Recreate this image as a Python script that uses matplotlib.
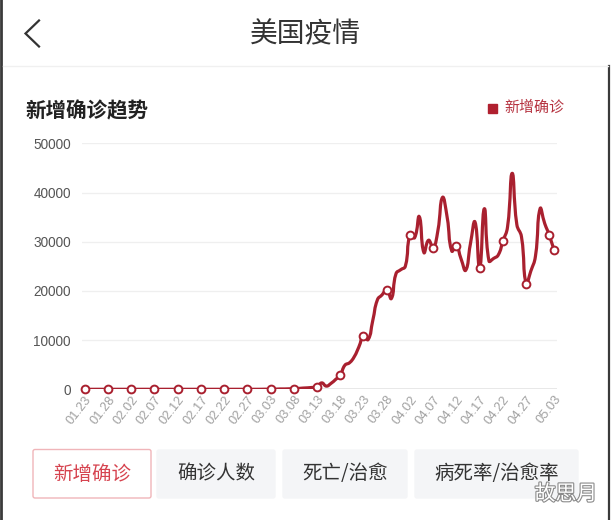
import numpy as np
import pandas as pd
import matplotlib
matplotlib.use('Agg')
import matplotlib.pyplot as plt
from matplotlib.path import Path
from matplotlib.patches import PathPatch, FancyBboxPatch, Rectangle
from matplotlib.lines import Line2D
import matplotlib.patheffects as pe

plt.rcParams['font.family'] = ['Noto Sans CJK SC', 'DejaVu Sans']

# daily new confirmed cases, 01.23 .. 05.03
new_cases = [
    0, 1, 0, 2, 0, 0, 0, 1, 1, 0,
    3, 0, 0, 3, 0, 0, 0, 0, 1, 0,
    1, 0, 0, 0, 0, 0, 0, 0, 0, 0,
    0, 0, 0, 0, 0, 1, 2, 0, 8, 22,
    20, 30, 70, 70, 100, 110, 170, 250, 300, 380,
    450, 1300, 650, 1200, 2000, 2900, 4900, 5400, 6600, 8600,
    10800, 10100, 14000, 18200, 19200, 20280, 18450, 23500, 24300, 25000,
    31300, 30800, 35100, 27800, 30300, 28800, 32200, 39000, 35000, 28100,
    29070, 26500, 24200, 29500, 34000, 24600, 36700, 26100, 26600, 27300,
    30080, 33000, 43900, 33500, 31000, 21500, 24000, 27000, 36700, 33700,
    31300, 28250,
]
dates = pd.date_range('2020-01-23', periods=len(new_cases), freq='D')
date_labels = [d.strftime('%m.%d') for d in dates]
y_ticks = [0, 10000, 20000, 30000, 40000, 50000]
buttons = ['新增确诊', '确诊人数', '死亡/治愈', '病死率/治愈率']

RED = '#a9202f'
W, H = 611, 520

fig = plt.figure(figsize=(W / 100, H / 100), dpi=100)
fig.patch.set_facecolor('white')

# overlay axes in pixel coordinates for the app chrome
bg = fig.add_axes([0, 0, 1, 1], zorder=0)
bg.set_xlim(0, W)
bg.set_ylim(H, 0)
bg.axis('off')

bg.add_line(Line2D([1.2, 1.2], [0, H], color='#3a3a3a', lw=2.0))
bg.add_line(Line2D([608.8, 608.8], [66, H], color='#3a3a3a', lw=1.6))
bg.add_line(Line2D([3, 608], [66, 66], color='#f0f0f0', lw=1.0))

# back chevron + page title
bg.add_line(Line2D([39, 25.5, 39], [20.5, 33.5, 46.5], color='#333333', lw=1.6,
                   solid_joinstyle='miter'))
bg.text(305, 34, '美国疫情', fontsize=20, color='#333333', ha='center', va='center')

# chart title + legend
bg.text(26, 111, '新增确诊趋势', fontsize=14.8, fontweight='bold', color='#222222',
        ha='left', va='center')
bg.add_patch(Rectangle((487.5, 103.5), 9, 9, color='#b0202f'))
bg.text(504, 108, '新增确诊', fontsize=10.8, color='#b63340', ha='left', va='center')

# bottom tab buttons
boxes = [(33, 449.5, 151, 498), (157, 450, 275, 498), (283, 450, 407, 498), (415, 450, 578, 498)]
for i, (label, (x0, y0, x1, y1)) in enumerate(zip(buttons, boxes)):
    if i == 0:
        fc, ec, tc = 'white', '#f0b5b9', '#d6434f'
    else:
        fc, ec, tc = '#f4f5f7', '#f4f5f7', '#333333'
    bg.add_patch(FancyBboxPatch((x0 + 2, y0 + 2), x1 - x0 - 4, y1 - y0 - 4,
                                boxstyle='round,pad=2', fc=fc, ec=ec, lw=1.0))
    bg.text((x0 + x1) / 2, 474, label, fontsize=14, color=tc, ha='center', va='center')

# watermark
bg.text(566, 494, '故思月', fontsize=15, color='white', ha='center', va='center',
        style='italic', path_effects=[pe.withStroke(linewidth=1.6, foreground='#8a8a8a')])

# chart axes
px_day = (554 - 84.7) / (len(new_cases) - 1)
left, right, top, bottom = 82, 557, 143.3, 389.3
ax = fig.add_axes([left / W, (H - bottom) / H, (right - left) / W, (bottom - top) / H], zorder=1)
ax.patch.set_alpha(0)
ax.set_xlim(-(84.7 - left) / px_day, (len(new_cases) - 1) + (right - 554) / px_day)
ax.set_ylim(0, 50000)
for s in ax.spines.values():
    s.set_visible(False)

for v in y_ticks[1:]:
    ax.axhline(v, color='#efefef', lw=0.9, zorder=0)
ax.axhline(0, color='#8c8c8c', lw=1.0, zorder=1)

ax.set_yticks(y_ticks)
ax.set_yticklabels([str(v) for v in y_ticks], family='Liberation Sans', fontsize=9.8, color='#555555')
ax.tick_params(axis='y', length=0, pad=8)

label_idx = list(range(0, len(new_cases) - 2, 5)) + [len(new_cases) - 1]
ax.set_xticks(label_idx)
ax.set_xticklabels([date_labels[i] for i in label_idx], family='Liberation Sans', fontsize=9.3,
                   color='#a0a0a0', rotation=52, ha='right', va='top', rotation_mode='anchor')
ax.tick_params(axis='x', length=0, pad=3)


def smooth_path(xs, ys, sx, sy, smooth=0.5):
    # echarts-style bezier smoothing through the data points
    P = np.column_stack([np.asarray(xs, float) * sx, np.asarray(ys, float) * sy])
    n = len(P)
    cin = P.copy()
    cout = P.copy()
    for i in range(1, n - 1):
        v = (P[i + 1] - P[i - 1]) * smooth
        d0 = np.hypot(*(P[i] - P[i - 1]))
        d1 = np.hypot(*(P[i] - P[i + 1]))
        tot = d0 + d1
        if tot > 0:
            d0, d1 = d0 / tot, d1 / tot
        cin[i] = P[i] - v * d0
        cout[i] = P[i] + v * d1
    lo, hi = P.min(0), P.max(0)
    cin = np.clip(cin, lo, hi)
    cout = np.clip(cout, lo, hi)
    verts = [P[0]]
    codes = [Path.MOVETO]
    for i in range(n - 1):
        verts += [cout[i], cin[i + 1], P[i + 1]]
        codes += [Path.CURVE4] * 3
    verts = np.array(verts) / [sx, sy]
    return Path(verts, codes)


days = np.arange(len(new_cases))
path = smooth_path(days, new_cases, px_day, (bottom - top) / 50000)
ax.add_patch(PathPatch(path, fill=False, ec=RED, lw=2.3, capstyle='round', joinstyle='round', zorder=3))

marker_idx = list(range(0, len(new_cases), 5)) + [len(new_cases) - 1]
ax.plot(marker_idx, [new_cases[i] for i in marker_idx], 'o', ms=5.6, mfc='white', mec=RED,
        mew=1.4, zorder=4, clip_on=False)

fig.savefig('out.png', dpi=100, facecolor='white')
